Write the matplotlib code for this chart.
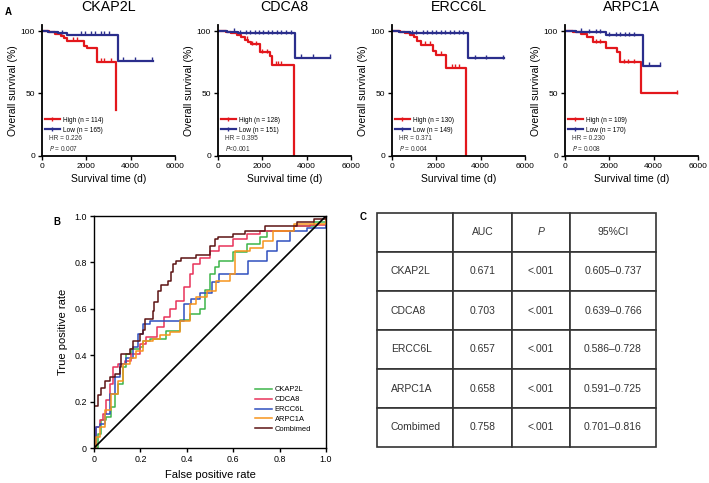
import matplotlib
matplotlib.use('Agg')
from matplotlib import pyplot as plt
from matplotlib.lines import Line2D
import numpy as np

plt.rcParams['font.family'] = ['Liberation Sans', 'DejaVu Sans']

# ---- panel A: Kaplan-Meier data ----
genes = ['CKAP2L', 'CDCA8', 'ERCC6L', 'ARPC1A']

high_t = [
    [0, 300, 600, 850, 1000, 1150, 1900, 2050, 2480, 3350],
    [0, 350, 600, 850, 1050, 1200, 1350, 1500, 1900, 2350, 2450, 3430],
    [0, 350, 600, 800, 1000, 1150, 1300, 1850, 2000, 2450, 3340],
    [0, 350, 700, 1000, 1250, 1850, 2350, 2480, 3430],
]
high_s = [
    [100, 99, 97.5, 96, 94, 92, 88, 86, 75.5, 37],
    [100, 99, 98, 96.5, 95, 93, 91, 89.5, 83, 80, 73, 0],
    [100, 99, 98, 96.5, 95, 92, 89, 84, 81, 70.5, 0],
    [100, 99, 97.5, 95, 91, 86, 83, 75, 50],
]
high_end = [3350, 3430, 3340, 5050]
high_cens = [
    [1400, 1600, 2650, 2800, 3100],
    [1300, 1550, 1700, 2000, 2200, 2600, 2700, 2850],
    [1500, 1700, 2200, 2700, 2850, 3000],
    [1400, 1600, 2650, 2850, 3100, 5050],
]

low_t = [
    [0, 250, 700, 1150, 3420],
    [0, 400, 900, 3476],
    [0, 300, 800, 3420],
    [0, 500, 1000, 1850, 3500],
]
low_s = [
    [100, 99.3, 98, 96.8, 76],
    [100, 99.3, 98.3, 78.5],
    [100, 99.3, 98, 78],
    [100, 99.5, 99, 96.5, 72],
]
low_end = [5000, 5050, 5050, 4300]
low_cens = [
    [900, 1750, 1950, 2200, 2400, 2650, 2800, 3000, 3650, 4180, 4950],
    [700, 1000, 1250, 1450, 1650, 1850, 2050, 2250, 2450, 2650, 2850, 3050, 3300, 3750, 4300, 5050],
    [900, 1100, 1400, 1600, 1800, 2000, 2200, 2400, 2600, 2800, 3000, 3200, 3750, 4250, 5000],
    [700, 1100, 1400, 1600, 2000, 2300, 2500, 2700, 2900, 3100, 3800, 4280],
]

n_high = [114, 128, 130, 109]
n_low = [165, 151, 149, 170]
hr_txt = ['0.226', '0.395', '0.371', '0.230']
p_txt = [' = 0.007', '<0.001', ' = 0.004', ' = 0.008']

# ---- panel B: ROC step curves (fpr, tpr) ----
roc_names = ['CKAP2L', 'CDCA8', 'ERCC6L', 'ARPC1A', 'Combimed']
roc_fpr = [
    [0, 0.017, 0.03, 0.053, 0.075, 0.09, 0.104, 0.125, 0.14, 0.16, 0.197, 0.21, 0.24, 0.312, 0.37,
     0.413, 0.456, 0.48, 0.5, 0.52, 0.54, 0.6, 0.658, 0.715, 0.744, 0.86, 0.95, 1.0],
    [0, 0.01, 0.025, 0.04, 0.053, 0.068, 0.082, 0.104, 0.132, 0.16, 0.197, 0.225, 0.27, 0.3, 0.327,
     0.355, 0.39, 0.413, 0.427, 0.456, 0.5, 0.54, 0.6, 0.658, 0.715, 0.86, 0.93, 1.0],
    [0, 0.007, 0.025, 0.046, 0.068, 0.09, 0.11, 0.14, 0.168, 0.19, 0.21, 0.24, 0.377, 0.39, 0.42,
     0.456, 0.51, 0.54, 0.614, 0.665, 0.744, 0.787, 0.845, 0.917, 0.975, 1.0],
    [0, 0.01, 0.025, 0.046, 0.075, 0.104, 0.125, 0.154, 0.182, 0.21, 0.255, 0.283, 0.327, 0.37,
     0.413, 0.44, 0.485, 0.528, 0.586, 0.607, 0.672, 0.73, 0.773, 0.86, 1.0],
    [0, 0.0, 0.017, 0.03, 0.046, 0.07, 0.09, 0.11, 0.118, 0.14, 0.154, 0.168, 0.197, 0.21, 0.22,
     0.255, 0.26, 0.276, 0.288, 0.32, 0.334, 0.34, 0.355, 0.377, 0.44, 0.5, 0.52, 0.535, 0.6,
     0.65, 0.737, 0.873, 0.95, 1.0],
]
roc_tpr = [
    [0, 0.06, 0.12, 0.133, 0.176, 0.234, 0.277, 0.348, 0.405, 0.427, 0.434, 0.463, 0.47, 0.506, 0.55,
     0.578, 0.6, 0.68, 0.75, 0.78, 0.807, 0.843, 0.879, 0.908, 0.936, 0.958, 0.975, 1.0],
    [0, 0.09, 0.12, 0.148, 0.205, 0.277, 0.348, 0.363, 0.377, 0.405, 0.449, 0.477, 0.52, 0.563, 0.6,
     0.635, 0.692, 0.75, 0.793, 0.82, 0.85, 0.872, 0.9, 0.922, 0.936, 0.958, 0.962, 1.0],
    [0, 0.09, 0.105, 0.148, 0.234, 0.305, 0.363, 0.39, 0.434, 0.49, 0.535, 0.549, 0.549, 0.62, 0.642,
     0.67, 0.714, 0.75, 0.75, 0.807, 0.85, 0.893, 0.936, 0.95, 0.95, 1.0],
    [0, 0.047, 0.09, 0.162, 0.234, 0.29, 0.363, 0.39, 0.42, 0.463, 0.47, 0.485, 0.5, 0.549,
     0.62, 0.65, 0.678, 0.72, 0.75, 0.85, 0.864, 0.893, 0.936, 0.965, 1.0],
    [0, 0.18, 0.23, 0.26, 0.29, 0.305, 0.32, 0.35, 0.405, 0.405, 0.427, 0.463, 0.49, 0.51, 0.556,
     0.59, 0.628, 0.678, 0.704, 0.72, 0.757, 0.793, 0.804, 0.819, 0.833, 0.872, 0.9, 0.91, 0.922,
     0.936, 0.958, 0.972, 0.985, 1.0],
]
roc_colors = ['#3DB54A', '#E8335A', '#2F4FBF', '#F7941D', '#5C1414']

# ---- panel C: table ----
tab_head = ['', 'AUC', 'P', '95%CI']
tab_names = ['CKAP2L', 'CDCA8', 'ERCC6L', 'ARPC1A', 'Combimed']
tab_auc = ['0.671', '0.703', '0.657', '0.658', '0.758']
tab_p = ['<.001', '<.001', '<.001', '<.001', '<.001']
tab_ci = ['0.605–0.737', '0.639–0.766', '0.586–0.728', '0.591–0.725', '0.701–0.816']

red = '#E3171C'
blue = '#2B2E8C'

fig = plt.figure(figsize=(7.09, 4.83), dpi=100)
W, H = 709., 483.

km_left = [42, 218, 392, 565]
for i, g in enumerate(genes):
    ax = fig.add_axes([km_left[i] / W, 1 - 156 / H, 133 / W, 131.25 / H])
    for t, s, end, cens, col in [(high_t[i], high_s[i], high_end[i], high_cens[i], red),
                                 (low_t[i], low_s[i], low_end[i], low_cens[i], blue)]:
        tt = np.array(t + [end], dtype=float)
        ss = np.array(s + [s[-1]], dtype=float)
        ax.step(tt, ss, where='post', color=col, lw=1.6)
        c = np.array(cens, dtype=float)
        cy = np.array(s, dtype=float)[np.searchsorted(t, c, side='right') - 1]
        ax.plot(c, cy + 1.2, ls='none', marker='|', ms=3.5, mew=1.0, color=col)
    ax.set_xlim(0, 6000)
    ax.set_ylim(0, 105)
    ax.set_xticks([0, 2000, 4000, 6000])
    ax.set_yticks([0, 50, 100])
    for sp in ['top', 'right']:
        ax.spines[sp].set_visible(False)
    for sp in ['left', 'bottom']:
        ax.spines[sp].set_linewidth(1.3)
    ax.tick_params(direction='out', length=3, width=1.0, labelsize=6, pad=2)
    ax.set_xlabel('Survival time (d)', fontsize=7.5, labelpad=3)
    ax.set_ylabel('Overall survival (%)', fontsize=7.5, labelpad=2)
    ax.set_title(g, fontsize=10.3, pad=10)
    hnd = [Line2D([], [], color=red, lw=1.6, marker='|', ms=3, mew=1.0),
           Line2D([], [], color=blue, lw=1.6, marker='|', ms=3, mew=1.0)]
    ax.legend(hnd, ['High (n = %d)' % n_high[i], 'Low (n = %d)' % n_low[i]],
              loc='lower left', bbox_to_anchor=(0.02, 0.17), frameon=False,
              fontsize=4.7, handlelength=2.4, handletextpad=0.4, labelspacing=0.45,
              borderpad=0, borderaxespad=0)
    ax.text(0.05, 0.132, 'HR = ' + hr_txt[i], transform=ax.transAxes, fontsize=4.7,
            va='center', color='#333333')
    ax.text(0.05, 0.060, '$P$' + p_txt[i], transform=ax.transAxes, fontsize=4.7,
            va='center', color='#333333')

# ROC
ax = fig.add_axes([94 / W, 1 - 448 / H, 232 / W, 232 / H])
for k in range(len(roc_names)):
    ax.plot(roc_fpr[k], roc_tpr[k], drawstyle='steps-post', color=roc_colors[k], lw=1.1,
            label=roc_names[k])
ax.plot([0, 1], [0, 1], color='black', lw=1.2)
ax.set_xlim(0, 1)
ax.set_ylim(0, 1)
tk = [0, 0.2, 0.4, 0.6, 0.8, 1.0]
tl = ['0', '0.2', '0.4', '0.6', '0.8', '1.0']
ax.set_xticks(tk)
ax.set_xticklabels(tl)
ax.set_yticks(tk)
ax.set_yticklabels(tl)
ax.tick_params(direction='out', length=3, width=1.0, labelsize=6.4, pad=2)
for sp in ax.spines.values():
    sp.set_linewidth(1.0)
ax.set_xlabel('False positive rate', fontsize=8, labelpad=4)
ax.set_ylabel('True positive rate', fontsize=8, labelpad=5)
ax.legend(loc='lower right', bbox_to_anchor=(0.935, 0.065), frameon=False, fontsize=5.4,
          handlelength=2.2, handletextpad=0.4, labelspacing=0.35, borderpad=0,
          borderaxespad=0)

# table
tax = fig.add_axes([377 / W, 1 - 447 / H, 279 / W, 234 / H])
tax.axis('off')
cells = [[tab_names[r], tab_auc[r], tab_p[r], tab_ci[r]] for r in range(len(tab_names))]
cw = np.array([76, 59, 58, 86]) / 279.
tb = tax.table(cellText=[tab_head] + cells, bbox=[0, 0, 1, 1], colWidths=list(cw),
               cellLoc='center')
tb.auto_set_font_size(False)
tb.set_fontsize(7.5)
for (r, c), cell in tb.get_celld().items():
    cell.set_linewidth(1.2)
    cell.set_edgecolor('#333333')
    cell.get_text().set_color('#333333')
    if c == 0:
        cell.get_text().set_ha('left')
        cell.PAD = 0.18
    if r == 0 and c == 2:
        cell.get_text().set_fontstyle('italic')

fig.text(5 / W, 1 - 12 / H, 'A', fontsize=7, weight='bold', va='center')
fig.text(53 / W, 1 - 222 / H, 'B', fontsize=7, weight='bold', va='center')
fig.text(360 / W, 1 - 217 / H, 'C', fontsize=7, weight='bold', va='center')

fig.savefig('out.png', dpi=100)
